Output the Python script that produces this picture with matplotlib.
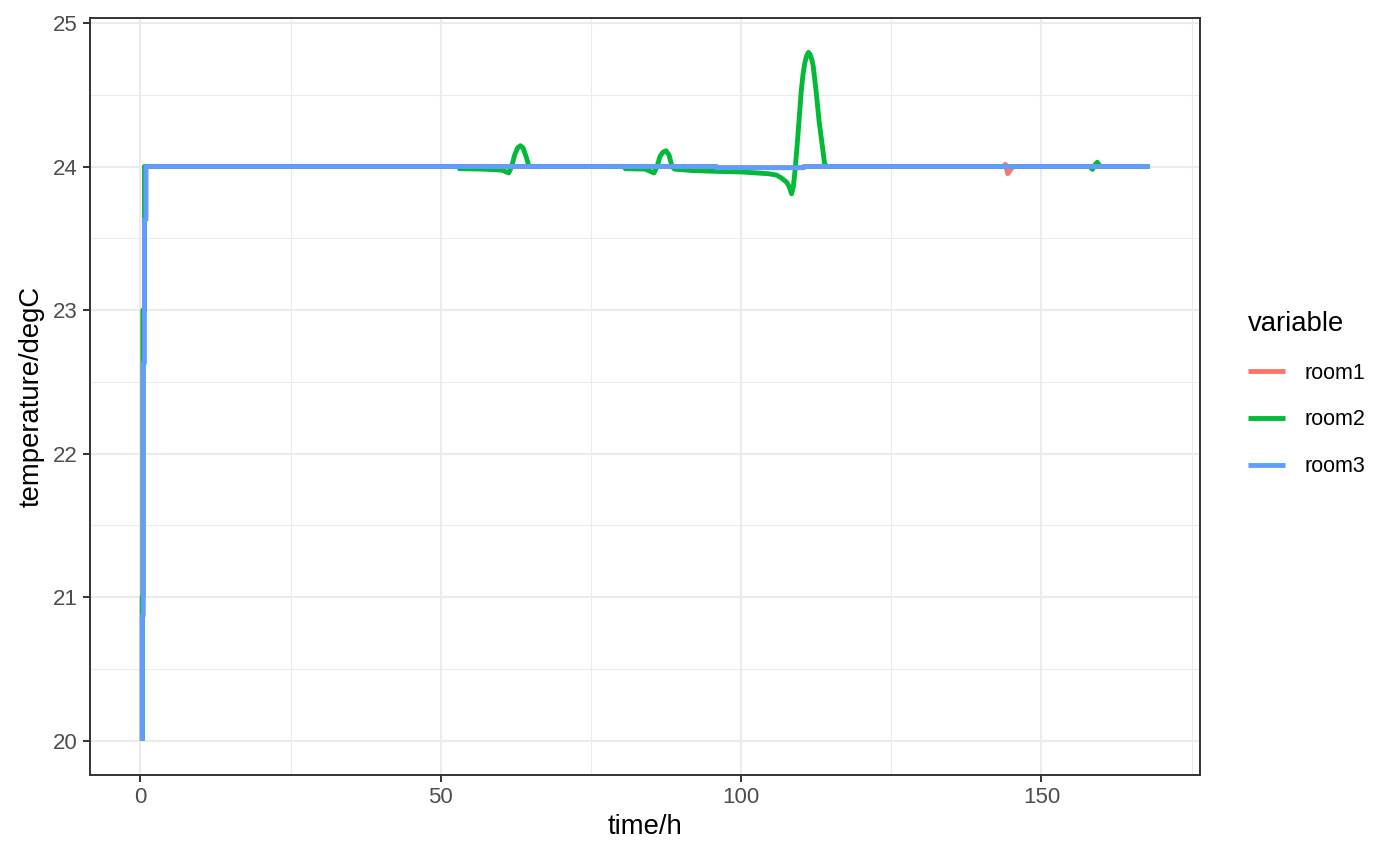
"""
Room temperatures over one week (ggplot theme_bw look).
"""

import matplotlib
matplotlib.use("Agg")
import matplotlib.pyplot as plt
from matplotlib.ticker import MultipleLocator

# ============================================================
# DATA
# ============================================================
SERIES_NAMES = ["room1", "room2", "room3"]

room1_time = [0.3, 0.3, 0.42, 0.42, 0.68, 0.68, 95.9, 95.9, 110.4, 110.4,
              143.6, 144.0, 144.4, 144.9, 145.3, 168]
room1_temp = [20, 21, 21, 23, 23, 24, 24, 23.992, 23.992, 24,
              24, 24.015, 23.95, 23.98, 24, 24]

room2_time = [0.3, 0.3, 0.42, 0.42, 0.68, 0.68, 53.0, 53.1, 57.0, 60.2, 61.3,
              61.8, 62.3, 62.8, 63.25, 63.7, 64.2, 64.7, 65.2, 80.6, 80.7, 84.0,
              85.5, 86.0, 86.5, 87.0, 87.5, 88.0, 88.5, 88.9, 91.8, 96.0, 100.0,
              104.5, 105.9, 106.7, 107.6, 108.0, 108.4, 108.7, 108.9, 109.2, 109.5,
              110.0, 110.3, 110.6, 110.9, 111.2, 111.5, 111.8, 112.0, 112.5, 113.0,
              113.5, 113.9, 114.3, 158.0, 158.5, 158.9, 159.3, 159.8, 168]
room2_temp = [20, 21, 21, 23, 23, 24, 24, 23.985, 23.982, 23.975, 23.955,
              24.0, 24.08, 24.13, 24.145, 24.13, 24.07, 24.0, 24.0, 24.0, 23.985, 23.982,
              23.955, 24.0, 24.07, 24.10, 24.11, 24.08, 24.0, 23.982, 23.972, 23.966, 23.962,
              23.95, 23.94, 23.92, 23.89, 23.86, 23.81, 23.86, 23.94, 24.08, 24.24,
              24.52, 24.64, 24.72, 24.77, 24.795, 24.78, 24.74, 24.70, 24.52, 24.31,
              24.15, 24.02, 24.0, 24.0, 23.98, 24.01, 24.03, 24.0, 24.0]

room3_time = [0.3, 0.3, 0.47, 0.47, 0.66, 0.66, 0.92, 0.92, 95.9, 95.9, 110.5, 110.5, 168]
room3_temp = [20, 20.87, 20.87, 22.63, 22.63, 23.63, 23.63, 24, 24, 23.992, 23.992, 24, 24]

X_MAJOR = 50
X_MINOR = 25
Y_MAJOR = 1
Y_MINOR = 0.5

# ============================================================
# STYLE
# ============================================================
COLORS = ["#F8766D", "#00BA38", "#619CFF"]
GRID_COLOR = "#EBEBEB"
BORDER_COLOR = "#333333"
TICK_LABEL_COLOR = "#4D4D4D"

plt.rcParams.update({
    "font.family": ["Liberation Sans", "DejaVu Sans"],
    "font.size": 16,
})

LINE_WIDTH = 3.5


def main():
    fig, ax = plt.subplots(figsize=(14, 8.65), dpi=100)
    fig.subplots_adjust(left=90 / 1400, right=1200 / 1400,
                        bottom=1 - 775 / 865, top=1 - 18 / 865)

    data = [(room1_time, room1_temp), (room2_time, room2_temp), (room3_time, room3_temp)]
    for name, (t, v), col in zip(SERIES_NAMES, data, COLORS):
        ax.plot(t, v, color=col, linewidth=LINE_WIDTH, label=name,
                solid_capstyle="butt", solid_joinstyle="round",
                snap=False, zorder=3)

    # ggplot-like 5% expansion; keep the left limit where data starts at 0
    ax.set_xlim(-8.4, 176.4)
    ax.margins(y=0.05)

    ax.xaxis.set_major_locator(MultipleLocator(X_MAJOR))
    ax.xaxis.set_minor_locator(MultipleLocator(X_MINOR))
    ax.yaxis.set_major_locator(MultipleLocator(Y_MAJOR))
    ax.yaxis.set_minor_locator(MultipleLocator(Y_MINOR))

    ax.set_axisbelow(True)
    ax.grid(which="major", color=GRID_COLOR, linewidth=1.45)
    ax.grid(which="minor", color=GRID_COLOR, linewidth=0.75)

    ax.tick_params(which="major", length=4.7, width=1.4, color=BORDER_COLOR,
                   labelcolor=TICK_LABEL_COLOR, labelsize=16, pad=3.9)
    ax.tick_params(which="minor", length=0)

    for s in ax.spines.values():
        s.set_color(BORDER_COLOR)
        s.set_linewidth(1.4)

    ax.set_xlabel("time/h", fontsize=19.8, labelpad=4)
    ax.set_ylabel("temperature/degC", fontsize=19.8, labelpad=6)

    leg = fig.legend(
        loc="upper left",
        bbox_to_anchor=(1237 / 1400, 1 - 300 / 865),
        frameon=False,
        title="variable",
        title_fontsize=19.8,
        fontsize=15.5,
        alignment="left",
        borderpad=0,
        handlelength=1.72,
        handletextpad=0.93,
        labelspacing=1.2,
    )
    for h in leg.get_lines():
        h.set_linewidth(LINE_WIDTH)
        h.set_solid_capstyle("butt")

    fig.savefig("out.png", dpi=100)
    plt.close(fig)


if __name__ == "__main__":
    main()
